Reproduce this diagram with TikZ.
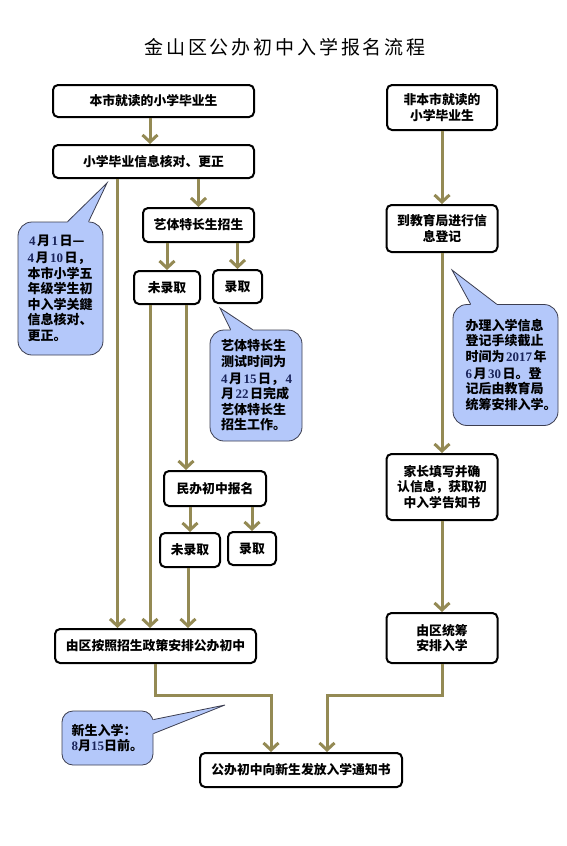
\documentclass[tikz,border=0pt]{standalone}
\usepackage{fontspec}
\setmainfont{Liberation Serif}
\newfontfamily\cjk{Noto Sans CJK SC}
\newfontfamily\titlefont[LetterSpace=15]{Noto Sans CJK SC}
\newfontfamily\numfont{Liberation Serif}
\usepackage{xcolor}
\usepackage{tikz}
\usetikzlibrary{arrows.meta,calc}
\definecolor{flowolive}{RGB}{148,138,84}
\definecolor{calloutblue}{RGB}{180,200,250}
\definecolor{calloutedge}{RGB}{60,62,80}
\definecolor{numblue}{RGB}{25,35,90}
\newcommand{\dg}[1]{\kern1.5pt{\numfont\bfseries\color{numblue}#1}\kern1.5pt}
\newcommand{\dgn}[1]{{\numfont\bfseries\color{numblue}#1}}

\begin{document}
\begin{tikzpicture}[x=1pt,y=-1pt,
    stepbox/.style={draw=black, line width=2pt, rounded corners=5pt, fill=white, align=center, inner sep=2pt,
      font=\cjk\bfseries\fontsize{12.8}{15.5}\selectfont},
    note/.style={draw=calloutedge, line width=0.8pt, fill=calloutblue, rounded corners=14pt, align=left, inner sep=0pt,
      font=\cjk\bfseries\fontsize{13}{15.5}\selectfont},
    notetip/.style={draw=calloutedge, line width=0.8pt},
    flow/.style={draw=flowolive, line width=3pt, -{Straight Barb[length=7pt,width=15pt]}}]
  \useasboundingbox (0,0) rectangle (566,846);

  \node (title) at (285,47) {\titlefont\fontsize{19}{21}\selectfont 金山区公办初中入学报名流程};

  % left column
  \node[stepbox, minimum width=201pt, minimum height=32pt] (local) at (153.5,101) {本市就读的小学毕业生};
  \node[stepbox, minimum width=201pt, minimum height=33pt] (check) at (153.5,161.5) {小学毕业信息核对、更正};
  \node[stepbox, minimum width=111pt, minimum height=34pt] (arts) at (198.5,225) {艺体特长生招生};
  \node[stepbox, minimum width=66pt, minimum height=33pt] (artsno) at (167,287.5) {未录取};
  \node[stepbox, minimum width=49pt, minimum height=33pt] (artsyes) at (237.5,286.5) {录取};
  \node[stepbox, minimum width=102pt, minimum height=35pt] (private) at (215,488.5) {民办初中报名};
  \node[stepbox, minimum width=60pt, minimum height=34pt] (privno) at (190,550) {未录取};
  \node[stepbox, minimum width=48pt, minimum height=33pt] (privyes) at (252,548.5) {录取};
  \node[stepbox, minimum width=201pt, minimum height=34pt] (assign) at (155.5,646) {由区按照招生政策安排公办初中};
  \node[stepbox, minimum width=202pt, minimum height=34pt] (notice) at (301,770) {公办初中向新生发放入学通知书};

  % right column
  \node[stepbox, minimum width=110pt, minimum height=45pt] (nonlocal) at (442,107.5) {非本市就读的\\小学毕业生};
  \node[stepbox, minimum width=111pt, minimum height=47pt] (register) at (442,228.5) {到教育局进行信\\息登记};
  \node[stepbox, minimum width=111pt, minimum height=66pt] (confirm) at (442,487) {家长填写并确\\认信息，获取初\\中入学告知书};
  \node[stepbox, minimum width=111pt, minimum height=50pt] (arrange) at (442,638) {由区统筹\\安排入学};

  % connectors
  \draw[flow] ([xshift=-3.5pt]local.south) -- ([xshift=-3.5pt]check.north);
  \draw[flow] (check.south -| arts.north) -- (arts.north);
  \draw[flow] ([xshift=-36pt]check.south) -- ([xshift=-36pt]check.south |- assign.north);
  \draw[flow] (arts.south -| artsno.north) -- (artsno.north);
  \draw[flow] (arts.south -| artsyes.north) -- (artsyes.north);
  \draw[flow] ([xshift=-17pt]artsno.south) -- ([xshift=-17pt]artsno.south |- assign.north);
  \draw[flow] ([xshift=19pt]artsno.south) -- ([xshift=19pt]artsno.south |- private.north);
  \draw[flow] (private.south -| privno.north) -- (privno.north);
  \draw[flow] (private.south -| privyes.north) -- (privyes.north);
  \draw[flow] ([xshift=-2pt]privno.south) -- ([xshift=-2pt]privno.south |- assign.north);
  \draw[flow] (assign.south) -- ++(0,31) -| ([xshift=-30pt]notice.north);
  \draw[flow] (nonlocal.south) -- (register.north);
  \draw[flow] (register.south) -- (confirm.north);
  \draw[flow] (confirm.south) -- (arrange.north);
  \draw[flow] (arrange.south) -- ++(0,31) -| ([xshift=26pt]notice.north);

  % callouts
  \node[note, minimum width=85pt, minimum height=133pt, text width=66pt] (tip1) at (60.5,288.5)
    {\dg{4}月\dg{1}日—\\\dg{4}月\dg{10}日，\\本市小学五\\年级学生初\\中入学关鍵\\信息核对、\\更正。};
  \coordinate (tip1end) at (107,183);
  \fill[calloutblue] ([xshift=50pt]tip1.north west) -- (tip1end) -- ([xshift=71pt]tip1.north west)
    -- ([xshift=71pt,yshift=-2pt]tip1.north west) -- ([xshift=50pt,yshift=-2pt]tip1.north west) -- cycle;
  \draw[notetip] ([xshift=50pt]tip1.north west) -- (tip1end) -- ([xshift=71pt]tip1.north west);

  \node[note, minimum width=92pt, minimum height=111pt, text width=70pt] (tip2) at (256,385.5)
    {艺体特长生\\测试时间为\\\dg{4}月\dg{15}日，\dg{4}\\月\dg{22}日完成\\艺体特长生\\招生工作。};
  \coordinate (tip2end) at (220,308);
  \fill[calloutblue] ([xshift=21pt]tip2.north west) -- (tip2end) -- ([xshift=43pt]tip2.north west)
    -- ([xshift=43pt,yshift=-2pt]tip2.north west) -- ([xshift=21pt,yshift=-2pt]tip2.north west) -- cycle;
  \draw[notetip] ([xshift=21pt]tip2.north west) -- (tip2end) -- ([xshift=43pt]tip2.north west);

  \node[note, minimum width=105pt, minimum height=121pt, text width=80pt] (tip3) at (505.5,365)
    {办理入学信息\\登记手续截止\\时间为\dg{2017}年\\\dg{6}月\dg{30}日。登\\记后由教育局\\统筹安排入学。};
  \coordinate (tip3end) at (452,270);
  \fill[calloutblue] ([xshift=18pt]tip3.north west) -- (tip3end) -- ([xshift=44pt]tip3.north west)
    -- ([xshift=44pt,yshift=-2pt]tip3.north west) -- ([xshift=18pt,yshift=-2pt]tip3.north west) -- cycle;
  \draw[notetip] ([xshift=18pt]tip3.north west) -- (tip3end) -- ([xshift=44pt]tip3.north west);

  \node[note, rounded corners=11pt, minimum width=91pt, minimum height=54pt, text width=72pt] (tip4) at (107.5,738)
    {新生入学：\\\dgn{8}月\dgn{15}日前。};
  \coordinate (tip4end) at (225,705);
  \fill[calloutblue] ([yshift=-9pt]tip4.north east) -- (tip4end) -- ([yshift=-23pt]tip4.north east)
    -- ([xshift=-2pt,yshift=-23pt]tip4.north east) -- ([xshift=-2pt,yshift=-9pt]tip4.north east) -- cycle;
  \draw[notetip] ([yshift=-9pt]tip4.north east) -- (tip4end) -- ([yshift=-23pt]tip4.north east);
\end{tikzpicture}
\end{document}
